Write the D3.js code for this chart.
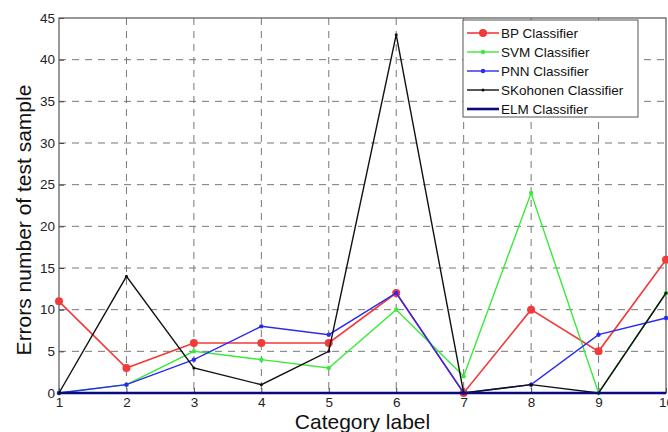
<!DOCTYPE html>
<html>
<head>
<meta charset="utf-8">
<script src="https://cdn.jsdelivr.net/npm/d3@7"></script>
<style>
  body { margin: 0; background: #fff; }
  text { font-family: "Liberation Sans", Arial, sans-serif; }
</style>
</head>
<body>
<svg width="668" height="432"></svg>
<script>
var categories = [1, 2, 3, 4, 5, 6, 7, 8, 9, 10];
var bpValues = [11, 3, 6, 6, 6, 12, 0, 10, 5, 16];
var svmValues = [0, 1, 5, 4, 3, 10, 2, 24, 0, 12];
var pnnValues = [0, 1, 4, 8, 7, 12, 0, 1, 7, 9];
var skohonenValues = [0, 14, 3, 1, 5, 43, 0, 1, 0, 12];
var elmValues = [0, 0, 0, 0, 0, 0, 0, 0, 0, 0];
var yTicks = [0, 5, 10, 15, 20, 25, 30, 35, 40, 45];

var series = [
  { name: "BP Classifier", values: bpValues, color: "#f23a3a", width: 1.6, marker: 4 },
  { name: "SVM Classifier", values: svmValues, color: "#3aea3a", width: 1.4, marker: 2.2 },
  { name: "PNN Classifier", values: pnnValues, color: "#2a2af0", width: 1.4, marker: 2.2 },
  { name: "SKohonen Classifier", values: skohonenValues, color: "#111111", width: 1.4, marker: 1.5 },
  { name: "ELM Classifier", values: elmValues, color: "#0a0a80", width: 2.6, marker: 0 }
];

var svg = d3.select("svg"),
  plotLeft = 59, plotRight = 666, plotTop = 18, plotBottom = 393;

var x = d3.scaleLinear().domain([1, 10]).range([plotLeft, plotRight]);
var y = d3.scaleLinear().domain([0, 45]).range([plotBottom, plotTop]);

// grid
svg.append("g")
  .selectAll("line")
  .data(yTicks.slice(1, -1))
  .enter()
  .append("line")
  .attr("x1", plotLeft).attr("x2", plotRight)
  .attr("y1", function (d) { return y(d); })
  .attr("y2", function (d) { return y(d); })
  .attr("stroke", "#777").attr("stroke-width", 1)
  .attr("stroke-dasharray", "7,6");

svg.append("g")
  .selectAll("line")
  .data(categories.slice(1, -1))
  .enter()
  .append("line")
  .attr("y1", plotTop).attr("y2", plotBottom)
  .attr("x1", function (d) { return x(d); })
  .attr("x2", function (d) { return x(d); })
  .attr("stroke", "#777").attr("stroke-width", 1)
  .attr("stroke-dasharray", "7,6");

// axes
var yAxis = d3.axisLeft(y).tickValues(yTicks).tickSize(-5).tickPadding(4);
var xAxis = d3.axisBottom(x).tickValues(categories).tickSize(-5).tickPadding(4);

var gy = svg.append("g").attr("transform", "translate(" + plotLeft + ",0)").call(yAxis);
var gx = svg.append("g").attr("transform", "translate(0," + plotBottom + ")").call(xAxis);
[gx, gy].forEach(function (g) {
  g.select(".domain").remove();
  g.selectAll("line").attr("stroke", "#444");
  g.selectAll("text").attr("font-size", 13.5).attr("fill", "#222");
});

svg.append("rect")
  .attr("x", plotLeft).attr("y", plotTop)
  .attr("width", plotRight - plotLeft).attr("height", plotBottom - plotTop)
  .attr("fill", "none").attr("stroke", "#555").attr("stroke-width", 1.2);

// lines
var line = d3.line()
  .x(function (d, i) { return x(categories[i]); })
  .y(function (d) { return y(d); });

series.forEach(function (s) {
  svg.append("path")
    .datum(s.values)
    .attr("fill", "none")
    .attr("stroke", s.color)
    .attr("stroke-width", s.width)
    .attr("d", line);
  if (s.marker > 0) {
    svg.append("g")
      .selectAll("circle")
      .data(s.values)
      .enter()
      .append("circle")
      .attr("cx", function (d, i) { return x(categories[i]); })
      .attr("cy", function (d) { return y(d); })
      .attr("r", s.marker)
      .attr("fill", s.color);
  }
});

// titles
svg.append("text")
  .attr("x", (plotLeft + plotRight) / 2).attr("y", 429)
  .attr("text-anchor", "middle")
  .attr("font-size", 21).attr("fill", "#111")
  .text("Category label");

svg.append("text")
  .attr("transform", "translate(31," + 220 + ") rotate(-90)")
  .attr("text-anchor", "middle")
  .attr("font-size", 21).attr("fill", "#111")
  .text("Errors number of test sample");

// legend
var legend = svg.append("g").attr("transform", "translate(463,20)");
legend.append("rect")
  .attr("width", 175).attr("height", 97)
  .attr("fill", "#fff").attr("stroke", "#555").attr("stroke-width", 1);

var item = legend.selectAll(".item")
  .data(series)
  .enter()
  .append("g")
  .attr("transform", function (d, i) { return "translate(0," + (13 + i * 19) + ")"; });

item.append("line")
  .attr("x1", 4).attr("x2", 36)
  .attr("stroke", function (d) { return d.color; })
  .attr("stroke-width", function (d) { return d.width; });
item.filter(function (d) { return d.marker > 0; })
  .append("circle")
  .attr("cx", 20)
  .attr("r", function (d) { return d.marker; })
  .attr("fill", function (d) { return d.color; });
item.append("text")
  .attr("x", 38).attr("dy", "0.35em")
  .attr("font-size", 13.5).attr("fill", "#111")
  .text(function (d) { return d.name; });
</script>
</body>
</html>
